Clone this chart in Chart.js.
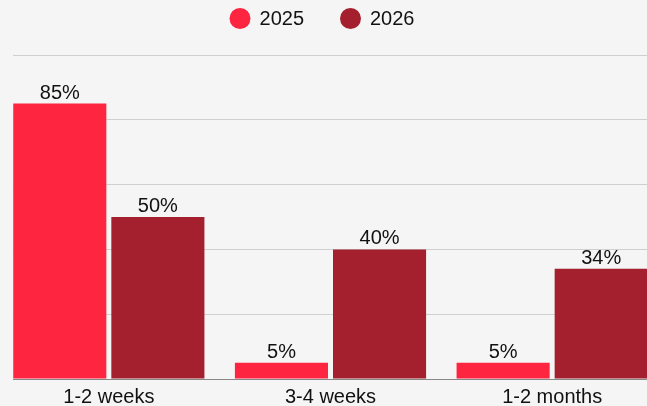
<!DOCTYPE html>
<html>
<head>
<meta charset="utf-8">
<script src="https://cdn.jsdelivr.net/npm/chart.js@4"></script>
<style>
    html, body { margin: 0; padding: 0; background: #f5f5f5; overflow: hidden; }
    #wrap { position: absolute; left: 13px; top: 0; width: 634px; height: 406px; overflow: hidden; }
    #chart { position: absolute; left: -15px; top: 0; }
</style>
</head>
<body>
<div id="wrap"><canvas id="chart" width="665" height="406"></canvas></div>
<script>
const categories = ['1-2 weeks', '3-4 weeks', '1-2 months'];
const seriesNames = ['2025', '2026'];
const values2025 = [85, 5, 5];
const values2026 = [50, 40, 34];
const yTicks = [0, 20, 40, 60, 80, 100];

const FONT = "'Liberation Sans', Arial, sans-serif";
const colors = ['#fe2540', '#a4202e'];

// labels over each bar
const barLabels = {
    id: 'barLabels',
    afterDatasetsDraw(chart) {
        const ctx = chart.ctx;
        ctx.save();
        ctx.font = `20px ${FONT}`;
        ctx.fillStyle = '#111';
        ctx.textAlign = 'center';
        ctx.textBaseline = 'alphabetic';
        chart.data.datasets.forEach((ds, i) => {
            chart.getDatasetMeta(i).data.forEach((bar, j) => {
                ctx.fillText(ds.data[j] + '%', bar.x, bar.y - 5);
            });
        });
        ctx.restore();
    }
};

// circle legend at the top
const topLegend = {
    id: 'topLegend',
    afterDraw(chart) {
        const ctx = chart.ctx;
        ctx.save();
        ctx.font = `20px ${FONT}`;
        const r = 10.5, gap = 9, spacing = 36, cy = 18.5;
        const items = chart.data.datasets.map(ds => ({
            label: ds.label, color: ds.backgroundColor, w: ctx.measureText(ds.label).width
        }));
        const total = items.reduce((s, it) => s + 2 * r + gap + it.w, 0) + spacing * (items.length - 1);
        let x = 324 - total / 2;
        items.forEach(it => {
            ctx.fillStyle = it.color;
            ctx.beginPath();
            ctx.arc(x + r, cy, r, 0, Math.PI * 2);
            ctx.fill();
            ctx.fillStyle = '#111';
            ctx.textBaseline = 'middle';
            ctx.fillText(it.label, x + 2 * r + gap, cy + 1);
            x += 2 * r + gap + it.w + spacing;
        });
        ctx.restore();
    }
};

new Chart(document.getElementById('chart'), {
    type: 'bar',
    data: {
        labels: categories,
        datasets: [
            { label: seriesNames[0], data: values2025, backgroundColor: colors[0] },
            { label: seriesNames[1], data: values2026, backgroundColor: colors[1] }
        ]
    },
    options: {
        responsive: false,
        animation: false,
        categoryPercentage: 0.885,
        barPercentage: 0.949,
        layout: { padding: { top: 55, bottom: 0, left: 0, right: 0 } },
        scales: {
            x: {
                afterFit: axis => { axis.height = 27; },
                grid: { display: false, drawTicks: false },
                border: { display: true, color: '#888', width: 1 },
                ticks: { color: '#111', font: { family: FONT, size: 20 }, padding: 6, maxRotation: 0 }
            },
            y: {
                min: yTicks[0],
                max: yTicks[yTicks.length - 1],
                afterBuildTicks: axis => { axis.ticks = yTicks.map(v => ({ value: v })); },
                ticks: { display: false },
                border: { display: false },
                grid: {
                    drawTicks: false,
                    color: c => c.tick.value === 0 ? 'rgba(0,0,0,0)' : '#cfcfcf'
                }
            }
        },
        plugins: {
            legend: { display: false },
            tooltip: { enabled: false }
        }
    },
    plugins: [barLabels, topLegend]
});
</script>
</body>
</html>
